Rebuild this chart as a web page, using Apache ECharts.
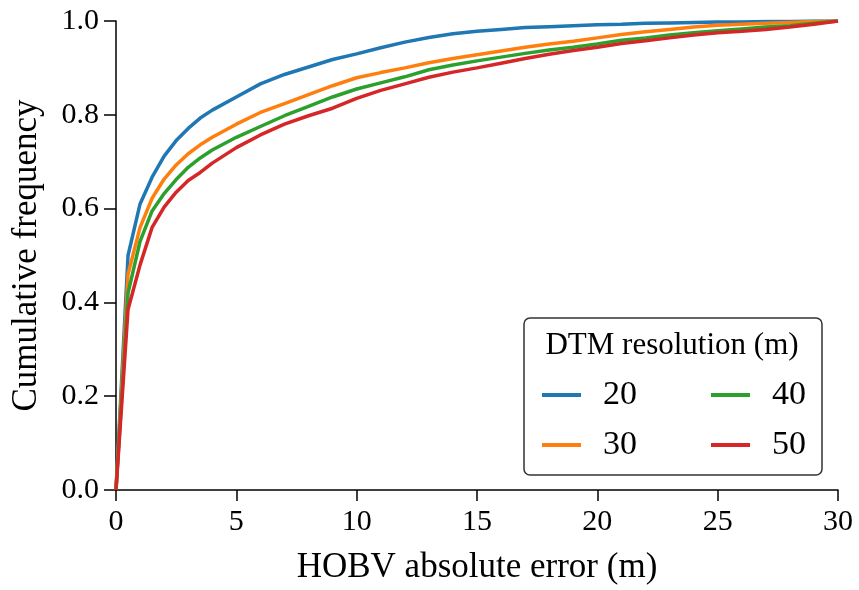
<!DOCTYPE html>
<html>
<head>
<meta charset="utf-8">
<script src="https://cdn.jsdelivr.net/npm/echarts@6/dist/echarts.min.js"></script>
<style>html,body{margin:0;padding:0;background:#fff;}#c{width:859px;height:590px;}</style>
</head>
<body>
<div id="c"></div>
<script>
const xs = [0, 0.5, 1, 1.5, 2, 2.5, 3, 3.5, 4, 5, 6, 7, 8, 9, 10, 11, 12, 13, 14, 15, 16, 17, 18, 19, 20, 21, 22, 23, 24, 25, 26, 27, 28, 29, 30];
const res20 = [0, 0.50, 0.61, 0.667, 0.712, 0.745, 0.771, 0.793, 0.810, 0.838, 0.866, 0.886, 0.902, 0.918, 0.930, 0.943, 0.955, 0.965, 0.973, 0.978, 0.982, 0.986, 0.988, 0.990, 0.992, 0.993, 0.995, 0.996, 0.997, 0.998, 0.998, 0.999, 0.999, 1.0, 1.0];
const res30 = [0, 0.46, 0.56, 0.622, 0.663, 0.693, 0.717, 0.736, 0.752, 0.780, 0.805, 0.824, 0.843, 0.862, 0.879, 0.890, 0.900, 0.911, 0.920, 0.928, 0.936, 0.944, 0.951, 0.957, 0.964, 0.971, 0.977, 0.982, 0.987, 0.991, 0.993, 0.995, 0.997, 0.999, 1.0];
const res40 = [0, 0.42, 0.53, 0.595, 0.632, 0.662, 0.688, 0.708, 0.725, 0.752, 0.775, 0.798, 0.818, 0.838, 0.855, 0.868, 0.881, 0.896, 0.906, 0.915, 0.923, 0.931, 0.938, 0.944, 0.951, 0.959, 0.964, 0.970, 0.975, 0.979, 0.983, 0.987, 0.990, 0.995, 1.0];
const res50 = [0, 0.385, 0.48, 0.56, 0.603, 0.635, 0.660, 0.677, 0.697, 0.730, 0.757, 0.780, 0.798, 0.814, 0.835, 0.852, 0.866, 0.880, 0.891, 0.900, 0.910, 0.920, 0.929, 0.937, 0.944, 0.952, 0.958, 0.964, 0.970, 0.975, 0.978, 0.982, 0.987, 0.993, 1.0];
const seriesNames = ['20', '30', '40', '50'];
const seriesValues = [res20, res30, res40, res50];
const colors = ['#1f77b4', '#ff7f0e', '#2ca02c', '#d62728'];
const xTicks = [0, 5, 10, 15, 20, 25, 30];
const yTicks = [0.0, 0.2, 0.4, 0.6, 0.8, 1.0];

const FONT = '"Liberation Serif", "DejaVu Serif", serif';
const chart = echarts.init(document.getElementById('c'), null, {renderer: 'canvas'});

const series = seriesNames.map((n, i) => ({
  name: n,
  type: 'line',
  data: xs.map((x, j) => [x, seriesValues[i][j]]),
  showSymbol: false,
  symbol: 'none',
  lineStyle: {color: colors[i], width: 3.5},
  itemStyle: {color: colors[i]},
  z: 2 + i
}));

const legendCommon = {
  orient: 'vertical',
  icon: 'rect',
  itemWidth: 39,
  itemHeight: 4,
  itemGap: 16,
  top: 373,
  z: 30,
  textStyle: {fontFamily: FONT, fontSize: 34, color: '#000', padding: [0, 0, 0, 17], lineHeight: 34},
  selectedMode: false
};

chart.setOption({
  animation: false,
  color: colors,
  grid: {left: 116, right: 21, top: 21, bottom: 97, containLabel: false},
  xAxis: {
    type: 'value', min: xTicks[0], max: xTicks[xTicks.length - 1], interval: 5,
    name: 'HOBV absolute error (m)', nameLocation: 'middle', nameGap: 60,
    nameTextStyle: {fontFamily: FONT, fontSize: 35, color: '#000'},
    axisLine: {show: true, lineStyle: {color: '#000', width: 1.5}},
    axisTick: {show: true, length: 11, lineStyle: {color: '#000', width: 1.5}},
    axisLabel: {fontFamily: FONT, fontSize: 30, color: '#000', margin: 17},
    splitLine: {show: false}
  },
  yAxis: {
    type: 'value', min: yTicks[0], max: yTicks[yTicks.length - 1], interval: 0.2,
    name: 'Cumulative frequency', nameLocation: 'middle', nameGap: 72,
    nameTextStyle: {fontFamily: FONT, fontSize: 35, color: '#000'},
    axisLine: {show: true, lineStyle: {color: '#000', width: 1.5}},
    axisTick: {show: true, length: 12, lineStyle: {color: '#000', width: 1.5}},
    axisLabel: {fontFamily: FONT, fontSize: 30, color: '#000', margin: 17, formatter: v => v.toFixed(1)},
    splitLine: {show: false}
  },
  legend: [
    Object.assign({}, legendCommon, {left: 537, data: ['20', '30']}),
    Object.assign({}, legendCommon, {left: 706, data: ['40', '50']})
  ],
  graphic: [
    {type: 'rect', shape: {x: 524, y: 318, width: 298, height: 157, r: 6},
     style: {fill: '#fff', stroke: '#333', lineWidth: 1.5}, z: 10, silent: true},
    {type: 'text', x: 672, y: 346, z: 11,
     style: {text: 'DTM resolution (m)', font: '31px ' + FONT, fill: '#000', textAlign: 'center', textVerticalAlign: 'middle'}}
  ],
  series: series
});
</script>
</body>
</html>
